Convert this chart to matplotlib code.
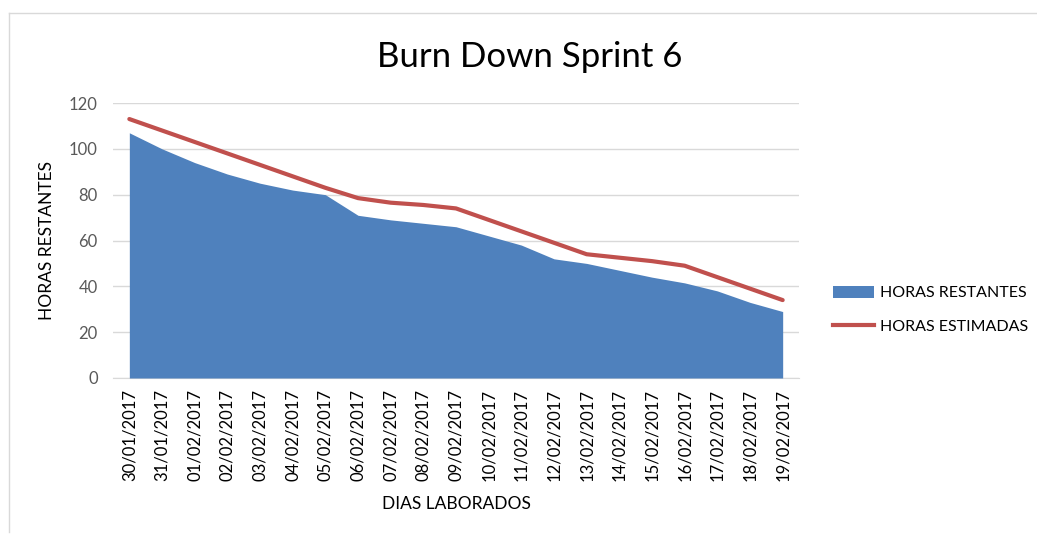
import numpy as np
import matplotlib
matplotlib.use('Agg')
import matplotlib.pyplot as plt
from matplotlib.lines import Line2D
from matplotlib.patches import Patch

plt.rcParams['font.family'] = ['Lato', 'DejaVu Sans']

# data
dias = ['30/01/2017', '31/01/2017', '01/02/2017', '02/02/2017', '03/02/2017',
        '04/02/2017', '05/02/2017', '06/02/2017', '07/02/2017', '08/02/2017',
        '09/02/2017', '10/02/2017', '11/02/2017', '12/02/2017', '13/02/2017',
        '14/02/2017', '15/02/2017', '16/02/2017', '17/02/2017', '18/02/2017',
        '19/02/2017']
horas_restantes = [107, 100, 94, 89, 85, 82, 80, 71, 69, 67.5, 66,
                   62, 58, 52, 50, 47, 44, 41.5, 38, 33, 29]
horas_estimadas = [113, 108, 103, 98, 93, 88, 83, 78.5, 76.5, 75.5, 74,
                   69, 64, 59, 54, 52.5, 51, 49, 44, 39, 34]

azul = '#4F81BD'
rojo = '#C0504D'

fig = plt.figure(figsize=(10.37, 5.35), dpi=100)
ax = fig.add_axes([113/1037, 1 - 378/535, 686/1037, 275/535])

x = np.arange(len(dias))
ax.fill_between(x, horas_restantes, 0, color=azul, lw=0, zorder=2)
ax.plot(x, horas_estimadas, color=rojo, lw=3, zorder=3, solid_capstyle='round')

ax.set_xlim(-0.5, len(dias) - 0.5)
ax.set_ylim(0, 120)
ax.set_yticks(range(0, 121, 20))
ax.set_xticks(x)
ax.set_xticklabels(dias, rotation=90, fontsize=12, color='black')
ax.tick_params(axis='y', labelsize=12, labelcolor='#595959', length=0, pad=11)
ax.tick_params(axis='x', length=0, pad=8)
ax.grid(axis='y', color='#D9D9D9', lw=1, zorder=0)
ax.set_axisbelow(True)
for s in ['top', 'right', 'left']:
    ax.spines[s].set_visible(False)
ax.spines['bottom'].set_color('#D9D9D9')
ax.spines['bottom'].set_zorder(1)

ax.set_ylabel('HORAS RESTANTES', fontsize=12.5, labelpad=10)
ax.set_xlabel('DIAS LABORADOS', fontsize=12.5, labelpad=11)

fig.text(530/1037, 1 - 57/535, 'Burn Down Sprint 6', fontsize=25,
         ha='center', va='center')

handles = [Patch(facecolor=azul, edgecolor='none'),
           Line2D([0], [0], color=rojo, lw=3)]
fig.legend(handles, ['HORAS RESTANTES', 'HORAS ESTIMADAS'],
           loc='center left', bbox_to_anchor=(819/1037, 1 - 310/535),
           frameon=False, fontsize=11.5, handlelength=2.55, handleheight=0.8,
           handletextpad=0.4, labelspacing=1.2)

# chart frame
fig.add_artist(Line2D([9/1037, 9/1037], [1 - 13/535, 1 - 532/535],
                      transform=fig.transFigure, color='#D9D9D9', lw=1))
fig.add_artist(Line2D([9/1037, 1], [1 - 13/535, 1 - 13/535],
                      transform=fig.transFigure, color='#D9D9D9', lw=1))

fig.savefig('out.png', dpi=100)
